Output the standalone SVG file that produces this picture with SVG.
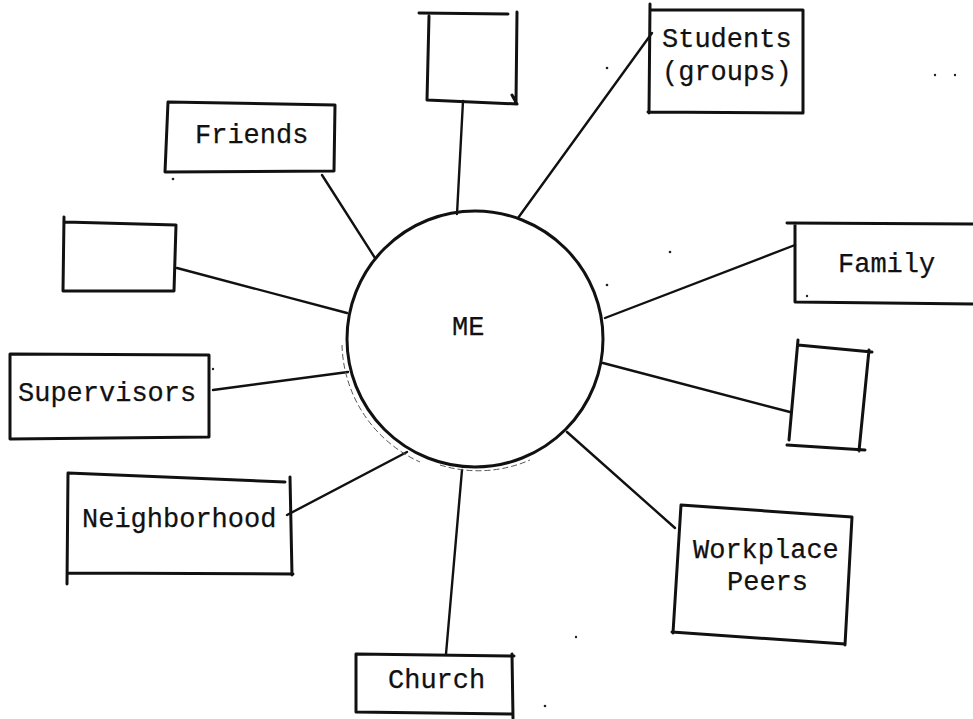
<svg xmlns="http://www.w3.org/2000/svg" width="973" height="719" viewBox="0 0 973 719">
<style>
.box{fill:none;stroke:#111;stroke-width:3;stroke-linecap:round;stroke-linejoin:round}
.con{fill:none;stroke:#111;stroke-width:2.4;stroke-linecap:round}
.lbl{font-family:"Liberation Mono","Courier New",monospace;font-size:27px;fill:#111;stroke:#111;stroke-width:0.25}
.speck{fill:#222}
.smudge{fill:none;stroke:#555;stroke-width:1;stroke-dasharray:6 3}
</style>
<rect x="0" y="0" width="973" height="719" fill="#fff"/>

<g id="connectors">
<path class="con" d="M463,101 L457,214"/>
<path class="con" d="M652,33 L518,218"/>
<path class="con" d="M322,175 L375,258"/>
<path class="con" d="M177,268 L347,313"/>
<path class="con" d="M213,390 L348,372"/>
<path class="con" d="M287,515 L407,452"/>
<path class="con" d="M462,470 L446,654"/>
<path class="con" d="M567,432 L675,528"/>
<path class="con" d="M603,363 L790,412"/>
<path class="con" d="M605,318 L795,245"/>
</g>

<g id="me">
<circle cx="475" cy="339" r="128" fill="none" stroke="#111" stroke-width="3"/>
<path class="smudge" d="M342,345 A132,132 0 0 0 420,462"/>
<path class="smudge" d="M440,465 A130,130 0 0 0 530,460"/>
<text class="lbl" x="452" y="335">ME</text>
</g>

<g id="top-empty">
<path class="box" d="M419,13 L508,14 M429,16 L427,100 L517,104 M517,12 L516,103 M512,95 L517,104"/>
</g>

<g id="students">
<path class="box" d="M650,4 L649,113 M650,10 L803,10 L803,113 M648,112 L803,113"/>
<text class="lbl" x="662" y="47">Students</text>
<text class="lbl" x="662" y="80">(groups)</text>
</g>

<g id="friends">
<path class="box" d="M168,102 L335,105 L334,171 L165,172 Z"/>
<text class="lbl" x="195" y="143">Friends</text>
</g>

<g id="left-empty">
<path class="box" d="M64,217 L63,291 L174,291 L176,225 L65,222"/>
</g>

<g id="supervisors">
<path class="box" d="M10,354 L209,355 L209,437 L10,439 Z"/>
<text class="lbl" x="18" y="401">Supervisors</text>
</g>

<g id="neighborhood">
<path class="box" d="M68,473 L285,482 M290,477 L292,575 M68,573 L293,574 M68,473 L67,584"/>
<text class="lbl" x="82" y="527">Neighborhood</text>
</g>

<g id="church">
<path class="box" d="M356,654 L514,656 M512,654 L513,718 M356,712 L512,714 M356,654 L356,712"/>
<text class="lbl" x="388" y="688">Church</text>
</g>

<g id="workplace-peers">
<path class="box" d="M681,505 L852,517 L845,645 M672,632 L845,644 M681,505 L673,633"/>
<text class="lbl" x="693" y="558">Workplace</text>
<text class="lbl" x="727" y="590">Peers</text>
</g>

<g id="right-empty">
<path class="box" d="M798,345 L872,352 M798,340 L789,440 M787,445 L865,450 M869,350 L859,451"/>
</g>

<g id="family">
<path class="box" d="M787,223 L973,224 M795,223 L795,302 L973,304"/>
<text class="lbl" x="838" y="272">Family</text>
</g>

<g id="specks">
<circle class="speck" cx="607" cy="68" r="1.3"/>
<circle class="speck" cx="670" cy="252" r="1.3"/>
<circle class="speck" cx="607" cy="285" r="1.3"/>
<circle class="speck" cx="807" cy="296" r="1.2"/>
<circle class="speck" cx="213" cy="369" r="1.2"/>
<circle class="speck" cx="173" cy="179" r="1.3"/>
<circle class="speck" cx="576" cy="637" r="1.2"/>
<circle class="speck" cx="545" cy="706" r="1.3"/>
<circle class="speck" cx="935" cy="75" r="1.2"/>
<circle class="speck" cx="955" cy="75" r="1.2"/>
</g>
</svg>
